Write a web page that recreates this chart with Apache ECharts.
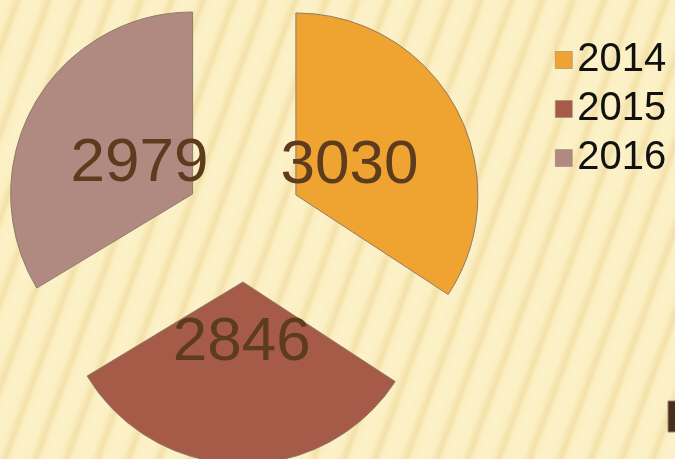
<!DOCTYPE html>
<html>
<head>
<meta charset="utf-8">
<script src="https://cdn.jsdelivr.net/npm/echarts@6/dist/echarts.min.js"></script>
<style>
  html, body { margin: 0; padding: 0; }
  body {
    width: 675px; height: 459px; overflow: hidden;
    background-color: #fcf1c8;
    background-image: repeating-linear-gradient(110deg,
      #fcf1c8 0px, #fbefc3 10px, #f4e1a8 17px, #fbefc3 22px, #fcf1c8 29px);
  }
  #chart { width: 675px; height: 459px; }
</style>
</head>
<body>
<div id="chart"></div>
<script>
// years and their totals
const years = ['2014', '2015', '2016']
const totals = [3030, 2846, 2979]
const colors = ['#efa330', '#a65b48', '#b08a80']

const chart = echarts.init(document.getElementById('chart'))

const CENTER = [244, 223]
const OFFSET = 59

const pieData = years.map((name, i) => ({
  name,
  value: totals[i],
  selected: true,
  itemStyle: { color: colors[i] }
}))

const option = {
  backgroundColor: 'transparent',
  animation: false,
  legend: {
    orient: 'vertical',
    left: 550,
    top: 35,
    itemWidth: 17,
    itemHeight: 17,
    itemGap: 9,
    icon: 'rect',
    selectedMode: false,
    data: years.map((name, i) => ({ name, itemStyle: { color: colors[i], borderColor: '#9a8878', borderWidth: 0.6 } })),
    textStyle: {
      fontFamily: 'Liberation Sans',
      fontSize: 40,
      lineHeight: 40,
      color: '#111'
    }
  },
  graphic: [{
    type: 'rect',
    shape: { x: 668, y: 401, width: 12, height: 31 },
    style: { fill: '#4b2d18', stroke: '#8f8676', lineWidth: 1 }
  }],
  series: [
    {
      type: 'pie',
      center: CENTER,
      radius: [0, 182],
      startAngle: 90,
      clockwise: true,
      selectedMode: 'multiple',
      selectedOffset: OFFSET,
      silent: true,
      itemStyle: { borderColor: '#8d7b6a', borderWidth: 1 },
      label: { show: false },
      labelLine: { show: false },
      emphasis: { disabled: true },
      data: pieData
    },
    {
      // text layer: smaller invisible pie so labels sit near the slice tips
      type: 'pie',
      center: CENTER,
      radius: [0, 116],
      startAngle: 90,
      clockwise: true,
      selectedMode: 'multiple',
      selectedOffset: OFFSET,
      silent: true,
      avoidLabelOverlap: false,
      legendHoverLink: false,
      itemStyle: { color: 'rgba(0,0,0,0)' },
      label: {
        show: true,
        position: 'inside',
        formatter: '{c}',
        fontFamily: 'Liberation Sans',
        fontSize: 62,
        offset: [0, 3],
        color: '#5c3b1e'
      },
      labelLayout: { hideOverlap: false },
      labelLine: { show: false },
      emphasis: { disabled: true },
      data: years.map((name, i) => ({ name, value: totals[i], selected: true }))
    }
  ]
}

chart.setOption(option)
</script>
</body>
</html>
